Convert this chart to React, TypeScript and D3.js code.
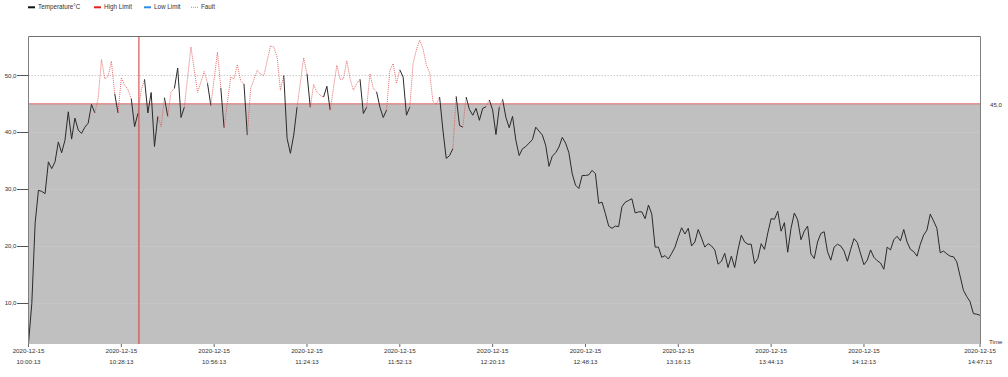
import React from "react";
import * as d3 from "d3";

const startTime = new Date(2020, 11, 15, 10, 0, 13);
const totalMinutes = 287;

// [minute offset from start, temperature °C]
const temperatureReadings: [number, number][] = [
  [0, 2.9], [1, 9.9], [2, 24.0], [3, 29.8], [4, 29.6], [5, 29.2], [6, 34.8], [7, 33.6], [8, 34.8], [9, 38.3],
  [10, 36.4], [11, 38.6], [12, 43.6], [13, 38.8], [14, 42.5], [15, 40.4], [16, 39.8], [17, 40.9], [18, 41.6], [19, 44.9],
  [20, 43.4], [21, 45.9], [22, 52.8], [23, 49.4], [24, 49.8], [25, 52.5], [26, 46.8], [27, 43.4], [28, 49.6], [29, 48.3],
  [30, 47.5], [31, 45.9], [32, 41.0], [33, 43.3], [34, 47.4], [35, 49.3], [36, 43.4], [37, 47.0], [38, 37.5], [39, 42.8],
  [40, 41.0], [41, 46.1], [42, 42.8], [43, 47.1], [44, 47.7], [45, 51.3], [46, 42.6], [47, 44.4], [49, 55.0], [51, 47.0],
  [53, 50.7], [54, 48.6], [55, 44.7], [57, 54.1], [58, 47.8], [59, 40.8], [61, 49.7], [62, 49.4], [63, 51.9], [64, 49.0],
  [65, 48.5], [66, 39.5], [67, 47.7], [69, 50.9], [70, 50.2], [71, 50.0], [73, 55.2], [74, 55.0], [75, 53.2], [76, 47.4],
  [77, 50.0], [78, 38.9], [79, 36.3], [80, 39.5], [81, 44.4], [83, 53.1], [84, 50.3], [85, 44.4], [86, 48.4], [87, 47.1],
  [88, 46.5], [89, 46.2], [90, 48.1], [91, 43.9], [93, 51.8], [94, 49.3], [95, 49.4], [96, 52.6], [97, 49.4], [98, 47.4],
  [99, 48.6], [100, 49.3], [101, 43.3], [102, 44.4], [103, 50.3], [104, 47.7], [105, 47.1], [106, 44.4], [107, 42.6], [108, 43.9],
  [109, 50.9], [110, 52.1], [111, 48.6], [112, 51.0], [113, 49.7], [114, 43.0], [115, 44.4], [116, 52.1], [117, 54.5], [118, 56.2],
  [119, 54.7], [120, 51.8], [121, 50.5], [122, 45.4], [123, 44.9], [124, 46.2], [125, 40.4], [126, 35.4], [127, 35.9], [128, 37.1],
  [129, 46.3], [130, 41.2], [131, 40.9], [132, 46.2], [133, 44.0], [134, 43.0], [135, 44.2], [136, 42.1], [137, 44.2], [138, 44.5],
  [139, 45.7], [140, 43.9], [141, 39.6], [142, 44.4], [143, 45.8], [144, 42.6], [145, 40.8], [146, 42.8], [147, 38.6], [148, 35.9],
  [149, 37.1], [150, 37.5], [151, 38.1], [152, 38.7], [153, 40.9], [154, 40.2], [155, 39.5], [156, 37.7], [157, 34.0], [158, 35.8],
  [159, 36.4], [160, 37.4], [161, 39.1], [162, 38.1], [163, 36.4], [164, 32.7], [165, 30.7], [166, 30.1], [167, 32.4], [168, 32.4],
  [169, 32.5], [170, 33.3], [171, 32.7], [172, 27.5], [173, 27.7], [174, 25.7], [175, 23.5], [176, 23.1], [177, 23.5], [178, 23.4],
  [179, 26.9], [180, 27.7], [181, 28.0], [182, 28.3], [183, 25.8], [184, 26.0], [185, 26.0], [186, 24.8], [187, 27.2], [188, 25.6],
  [189, 19.8], [190, 19.8], [191, 18.0], [192, 18.3], [193, 17.7], [194, 18.7], [195, 19.8], [196, 21.6], [197, 23.2], [198, 22.1],
  [199, 23.1], [200, 20.0], [201, 20.7], [202, 22.9], [203, 21.4], [204, 19.8], [205, 20.4], [206, 20.0], [207, 19.3], [208, 16.8],
  [209, 17.3], [210, 18.7], [211, 16.2], [212, 18.2], [213, 16.2], [214, 19.3], [215, 21.9], [216, 20.7], [217, 20.3], [218, 20.3],
  [219, 16.9], [220, 17.8], [221, 20.4], [222, 19.4], [223, 22.3], [224, 24.8], [225, 24.7], [226, 26.1], [227, 22.6], [228, 24.1],
  [229, 18.9], [230, 23.1], [231, 25.8], [232, 24.6], [233, 21.1], [234, 22.6], [235, 23.5], [236, 18.6], [237, 17.8], [238, 20.7],
  [239, 22.2], [240, 22.5], [241, 19.0], [242, 17.5], [243, 19.8], [244, 20.3], [245, 20.0], [246, 19.1], [247, 17.3], [248, 19.4],
  [249, 21.3], [250, 20.6], [251, 18.6], [252, 16.7], [253, 17.5], [254, 19.3], [255, 18.0], [256, 17.4], [257, 17.0], [258, 15.9],
  [259, 19.8], [260, 19.3], [261, 21.1], [262, 21.7], [263, 20.9], [264, 22.9], [265, 20.7], [266, 19.4], [267, 19.0], [268, 18.2],
  [269, 20.3], [270, 21.9], [271, 22.8], [272, 25.6], [273, 24.4], [274, 23.1], [275, 18.8], [276, 19.1], [277, 18.6], [278, 18.2],
  [279, 18.1], [280, 17.2], [281, 14.7], [282, 12.2], [283, 11.1], [284, 10.2], [285, 8.1], [286, 8.0], [287, 7.8],
];

// minute offsets at which a fault-flagged (red dotted) segment starts
const faultSegmentStarts = [
  20, 21, 22, 23, 24, 25, 27, 28, 29, 30, 33, 34, 39, 40, 42, 43, 47, 49, 51, 53, 55, 57, 59, 61, 62, 63, 64,
  66, 67, 69, 70, 71, 73, 74, 75, 76, 81, 83, 85, 86, 87, 88, 91, 93, 94, 95, 96, 97, 98, 99, 102, 103, 104,
  108, 109, 110, 111, 115, 116, 117, 118, 119, 120, 121, 122, 123, 128, 131, 138, 142,
];

const highLimit = 45;
const markerMinute = 33.3;
const yDomain = [2.75, 56.85];
const yTickValues = [10, 20, 30, 40, 50];
const xTickMinutes = [0, 28, 56, 84, 112, 140, 168, 196, 224, 252, 287];
const legendLabels = ["Temperature°C", "High Limit", "Low Limit", "Fault"];
const legendColors = ["#111111", "#e3211c", "#2f8de4", "#9a9a9a"];

const FONT = "'Liberation Sans', Arial, sans-serif";

export default function App() {
  const W = 1008;
  const H = 377;
  const left = 28.5;
  const right = 980.5;
  const top = 36.5;
  const bottom = 344;

  const addMin = (m: number) => new Date(startTime.getTime() + m * 60000);
  const x = d3.scaleTime().domain([startTime, addMin(totalMinutes)]).range([left, 980]);
  const y = d3.scaleLinear().domain(yDomain).range([bottom, top]);
  const fmtDate = d3.timeFormat("%Y-%m-%d");
  const fmtTime = d3.timeFormat("%H:%M:%S");
  const fmtVal = (v: number) => d3.format(".1f")(v).replace(".", ",");

  const line = d3
    .line<[number, number]>()
    .x((d) => x(addMin(d[0])))
    .y((d) => y(d[1]));

  const faultSet = new Set(faultSegmentStarts);
  const runs: { fault: boolean; pts: [number, number][] }[] = [];
  for (let i = 0; i < temperatureReadings.length - 1; i++) {
    const a = temperatureReadings[i];
    const b = temperatureReadings[i + 1];
    const f = faultSet.has(a[0]);
    const last = runs[runs.length - 1];
    if (last && last.fault === f) last.pts.push(b);
    else runs.push({ fault: f, pts: [a, b] });
  }

  const yHigh = y(highLimit);
  const legendX = [28, 94, 144, 191];

  return (
    <svg
      width={W}
      height={H}
      style={{ position: "absolute", left: 0, top: 0, display: "block", background: "#fff" }}
      fontFamily={FONT}
    >
      {/* legend */}
      {legendLabels.map((lab, i) => (
        <g key={lab}>
          <line
            x1={legendX[i]}
            x2={legendX[i] + 7}
            y1={7.3}
            y2={7.3}
            stroke={legendColors[i]}
            strokeWidth={i === 3 ? 1 : 2}
            strokeDasharray={i === 3 ? "1,1" : undefined}
          />
          <text x={legendX[i] + 10} y={9.3} fontSize={6.3} fill="#333">
            {lab}
          </text>
        </g>
      ))}

      {/* plot background */}
      <rect x={left} y={top} width={right - left} height={bottom - top} fill="#ffffff" />
      <rect x={left} y={yHigh} width={right - left} height={bottom - yHigh} fill="#c0c0c0" />

      {/* grid */}
      {yTickValues.map((v) =>
        v > highLimit ? (
          <line key={v} x1={left} x2={right} y1={Math.round(y(v)) + 0.5} y2={Math.round(y(v)) + 0.5}
            stroke="#cdcdcd" strokeDasharray="1.5,1.5" />
        ) : (
          <line key={v} x1={left} x2={right} y1={Math.round(y(v)) + 0.5} y2={Math.round(y(v)) + 0.5}
            stroke="#c6c6c6" />
        )
      )}

      {/* high limit */}
      <line x1={left} x2={right} y1={yHigh} y2={yHigh} stroke="#e06464" strokeWidth={1} />

      {/* marker */}
      <line x1={x(addMin(markerMinute))} x2={x(addMin(markerMinute))} y1={top} y2={bottom}
        stroke="#d44646" strokeWidth={1.1} />

      {/* temperature */}
      {runs.map((r, i) =>
        r.fault ? (
          <path key={i} d={line(r.pts) || ""} fill="none" stroke="#e05a5a" strokeWidth={0.9}
            strokeDasharray="1,1" />
        ) : (
          <path key={i} d={line(r.pts) || ""} fill="none" stroke="#2a2a2a" strokeWidth={1} />
        )
      )}

      {/* frame */}
      <line x1={left} x2={right} y1={top} y2={top} stroke="#707070" />
      <line x1={left} x2={left} y1={top} y2={bottom} stroke="#808080" />
      <line x1={right} x2={right} y1={top} y2={bottom} stroke="#808080" />

      {/* y axis */}
      {yTickValues.map((v) => (
        <g key={v}>
          <line x1={17} x2={left} y1={Math.round(y(v)) + 0.5} y2={Math.round(y(v)) + 0.5} stroke="#555" />
          <text x={16.5} y={y(v) + 2.2} fontSize={6.1} fill="#333" textAnchor="end">
            {fmtVal(v)}
          </text>
        </g>
      ))}
      <text x={990} y={yHigh + 3.5} fontSize={6.1} fill="#333">
        {fmtVal(highLimit)}
      </text>

      {/* x axis */}
      {xTickMinutes.map((m) => {
        const t = addMin(m);
        const px = x(t);
        return (
          <g key={m}>
            <line x1={px} x2={px} y1={bottom} y2={bottom + 3} stroke="#666" />
            <text x={px} y={352.6} fontSize={6.2} fill="#333" textAnchor="middle">
              {fmtDate(t)}
            </text>
            <text x={px} y={364.3} fontSize={6.2} fill="#333" textAnchor="middle">
              {fmtTime(t)}
            </text>
          </g>
        );
      })}
      <text x={989} y={344.3} fontSize={6.2} fill="#333">
        Time
      </text>
    </svg>
  );
}
